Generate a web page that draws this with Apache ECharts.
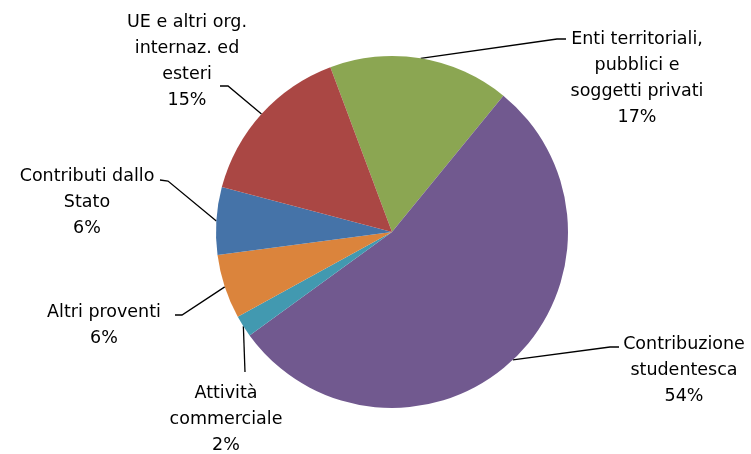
<!DOCTYPE html>
<html>
<head>
<meta charset="utf-8">
<script src="https://cdn.jsdelivr.net/npm/echarts@6/dist/echarts.min.js"></script>
<style>
  html, body { margin: 0; padding: 0; background: #fff; }
  #chart { width: 751px; height: 454px; }
</style>
</head>
<body>
<div id="chart"></div>
<script>
// clockwise from the green slice
const categories = [
  'Enti territoriali,\npubblici e\nsoggetti privati',
  'Contribuzione\nstudentesca',
  'Attività\ncommerciale',
  'Altri proventi',
  'Contributi dallo\nStato',
  'UE e altri org.\ninternaz. ed\nesteri'
];
const shares = [16.6, 54.1, 2.0, 5.9, 6.2, 15.2];
const colors = ['#8ba652', '#71598f', '#4299b0', '#db843c', '#4573a8', '#aa4744'];

// label block placement: centre x, top y
const labelSpots = [
  [637, 26],
  [684, 331],
  [226, 380],
  [104, 299],
  [87, 163],
  [187, 9]
];
// leader line bends after leaving the slice edge
const leaderBends = [
  [[557, 39], [566, 39]],
  [[610, 347], [619, 347]],
  [[245, 372]],
  [[182, 315], [175, 315]],
  [[168, 181], [160, 180]],
  [[228, 86], [220, 86]]
];

const chart = echarts.init(document.getElementById('chart'));

chart.setOption({
  animation: false,
  series: [{
    type: 'pie',
    center: [392, 232],
    radius: 176,
    startAngle: 110.5,
    clockwise: true,
    data: categories.map((name, i) => ({
      name: name,
      value: shares[i],
      itemStyle: { color: colors[i] }
    })),
    itemStyle: { borderWidth: 0 },
    label: {
      show: true,
      formatter: p => p.name + '\n' + Math.round(p.percent) + '%',
      fontFamily: 'DejaVu Sans',
      fontSize: 17.5,
      lineHeight: 26,
      color: '#000',
      align: 'center'
    },
    labelLine: {
      show: true,
      length: 10,
      length2: 10,
      lineStyle: { color: '#000', width: 1.3 }
    },
    labelLayout: function (params) {
      const i = params.dataIndex;
      const s = labelSpots[i];
      const start = params.labelLinePoints ? params.labelLinePoints[0] : null;
      const out = {
        x: s[0],
        y: s[1],
        align: 'center',
        verticalAlign: 'top'
      };
      if (start) {
        out.labelLinePoints = [start].concat(leaderBends[i]);
      }
      return out;
    }
  }]
});
</script>
</body>
</html>
